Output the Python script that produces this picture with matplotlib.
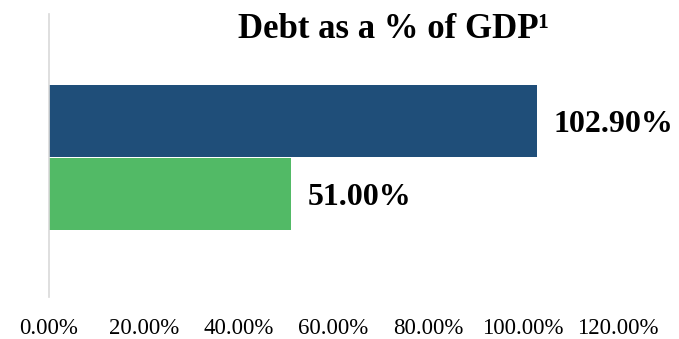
import matplotlib
matplotlib.use("Agg")
import matplotlib.pyplot as plt

# Data
series = ["Series 1", "Series 2"]
values = [102.90, 51.00]
colors = ["#1F4E79", "#52BA66"]
ticks = [0, 20, 40, 60, 80, 100, 120]
tick_labels = ["0.00%", "20.00%", "40.00%", "60.00%", "80.00%", "100.00%", "120.00%"]

plt.rcParams["font.family"] = ["Liberation Serif", "DejaVu Serif"]

fig = plt.figure(figsize=(6.79, 3.39), dpi=100)
ax = fig.add_axes([49 / 679, 42 / 339, (618 - 49) / 679, (297 - 14) / 339])

# bar positions within the single category (axis y range 0..1)
ypos = [0.622, 0.364]
bar_h = 0.257
ax.barh(ypos, values, height=bar_h, color=colors, edgecolor="none")

for y, v in zip(ypos, values):
    ax.text(v + 3.5, y - 0.012, f"{v:.2f}%", va="center", ha="left",
            fontsize=23, fontweight="bold")

ax.set_xlim(0, 120)
ax.set_ylim(0, 1)
ax.set_xticks(ticks)
ax.set_xticklabels(tick_labels, fontsize=16.5)
ax.set_yticks([])
ax.tick_params(axis="x", length=0, pad=15)

for s in ["top", "right", "bottom"]:
    ax.spines[s].set_visible(False)
ax.spines["left"].set_color("#D9D9D9")
ax.spines["left"].set_linewidth(1.2)

fig.text(393 / 679, 1 - 29 / 339, "Debt as a % of GDP¹", ha="center", va="center",
         fontsize=25, fontweight="bold")

fig.savefig("out.png", dpi=100)
